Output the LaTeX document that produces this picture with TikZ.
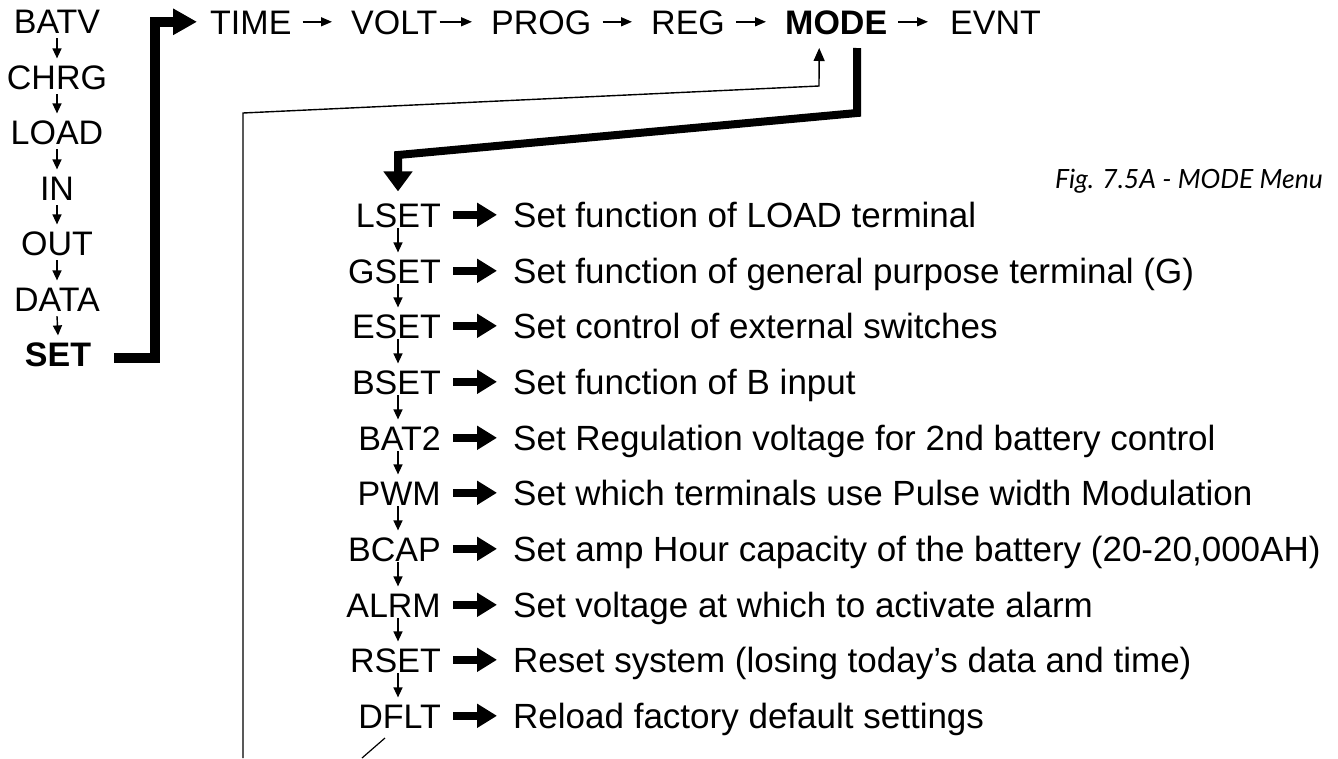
\documentclass[tikz,border=0pt]{standalone}
\usepackage{fontspec}
\setmainfont{Liberation Sans}
\newfontfamily\capfont{Lato}
\usetikzlibrary{arrows.meta}
\begin{document}
\begin{tikzpicture}[x=1pt,y=-1pt,
  lbl/.style={inner sep=0pt, text height=24.4pt, text depth=0pt, font=\fontsize{34}{40}\selectfont},
  blbl/.style={lbl, font=\fontsize{34}{40}\selectfont\bfseries},
  dlbl/.style={inner sep=0pt, text height=25pt, text depth=0pt, font=\fontsize{35}{40}\selectfont},
  varr/.style={line width=1.4pt, -{Triangle[length=10pt,width=9pt]}},
  harr/.style={line width=1.4pt, -{Triangle[length=11pt,width=9pt]}},
  bigarr/.style={line width=8pt, -{Triangle[length=20pt,width=23pt]}},
  setarr/.style={line width=10pt, line join=miter, -{Triangle[length=24pt,width=25pt]}},
  modearr/.style={line width=8pt, line join=miter, -{Triangle[length=20pt,width=28pt]}},
  retarr/.style={line width=1.4pt, -{Triangle[length=13pt,width=11pt]}},
  thinline/.style={line width=1.2pt},
  capt/.style={inner sep=0pt, font=\fontsize{26.5}{32}\selectfont\capfont\itshape}
]
\useasboundingbox (0,0) rectangle (1338,758);

% left column
\node[lbl, anchor=base] (batv) at (57,33) {BATV};
\node[lbl, anchor=base] (chrg) at (57,89) {CHRG};
\node[lbl, anchor=base] (load) at (57,144) {LOAD};
\node[lbl, anchor=base] (in) at (57,200) {IN};
\node[lbl, anchor=base] (out) at (57,255) {OUT};
\node[lbl, anchor=base] (data) at (57,311) {DATA};
\node[blbl, anchor=base] (set) at (58,366) {SET};
\foreach \a/\b in {batv/chrg,chrg/load,load/in,in/out,out/data,data/set}
  \draw[varr] ([yshift=-5pt]\a.south) -- ([yshift=6pt]\b.north);

% top row
\node[lbl, anchor=base west] (time) at (210,34) {TIME};
\node[lbl, anchor=base west] (volt) at (351,34) {VOLT};
\node[lbl, anchor=base west] (prog) at (491,34) {PROG};
\node[lbl, anchor=base west] (reg) at (651,34) {REG};
\node[blbl, anchor=base west] (mode) at (785,34) {MODE};
\node[lbl, anchor=base west] (evnt) at (950,34) {EVNT};
\draw[harr] ([xshift=11pt]time.east) -- ([xshift=-19pt]volt.west);
\draw[harr] ([xshift=2pt]volt.east) -- ([xshift=-19pt]prog.west);
\draw[harr] ([xshift=11pt]prog.east) -- ([xshift=-19pt]reg.west);
\draw[harr] ([xshift=11pt]reg.east) -- ([xshift=-19pt]mode.west);
\draw[harr] ([xshift=11pt]mode.east) -- ([xshift=-22pt]evnt.west);

% SET -> TIME
\draw[setarr] ([xshift=23pt,yshift=-4pt]set.east) -| ([xshift=-55pt]time.west) -- ([xshift=-13pt]time.west);

% menu
\foreach \n/\t/\d/\y in {
  lset/LSET/Set function of LOAD terminal/227,
  gset/GSET/Set function of general purpose terminal (G)/283,
  eset/ESET/Set control of external switches/338,
  bset/BSET/Set function of B input/394,
  bat/BAT2/Set Regulation voltage for 2nd battery control/450,
  pwm/PWM/Set which terminals use Pulse width Modulation/505,
  bcap/BCAP/Set amp Hour capacity of the battery (20-20{,}000AH)/561,
  alrm/ALRM/Set voltage at which to activate alarm/617,
  rset/RSET/Reset system (losing today’s data and time)/672,
  dflt/DFLT/Reload factory default settings/728}
{
  \node[lbl, anchor=base east] (\n) at (441,\y) {\t};
  \node[dlbl, anchor=base west] (\n d) at (513,\y) {\d};
  \draw[bigarr] ([xshift=12pt]\n.east) -- ([xshift=-16pt,yshift=-0.3pt]\n d.west);
}
\foreach \a/\b in {lset/gset,gset/eset,eset/bset,bset/bat,bat/pwm,pwm/bcap,bcap/alrm,alrm/rset,rset/dflt}
  \draw[varr] ([xshift=-43pt,yshift=-1pt]\a.south east) -- ([xshift=-43pt,yshift=6pt]\b.north east);

% MODE -> LSET
\coordinate (m1) at (857,113);
\coordinate (m2) at (398,155);
\draw[modearr] ([xshift=21pt,yshift=-14pt]mode.base) -- (m1) -- (m2) -- ([xshift=-43pt,yshift=11pt]lset.north east);

% return line
\coordinate (r0) at (243,758);
\coordinate (r1) at (243,113);
\coordinate (r2) at (819,86);
\draw[retarr] (r0) -- (r1) -- (r2) -- ([xshift=-17pt,yshift=-14pt]mode.base);

% stray diagonal below DFLT
\coordinate (dd) at (362,758);
\draw[thinline] ([xshift=-56pt,yshift=-10pt]dflt.base east) -- (dd);

% caption
\node[capt, anchor=base east] (cap) at (1323,188) {Fig. 7.5A - MODE Menu};
\end{tikzpicture}
\end{document}
